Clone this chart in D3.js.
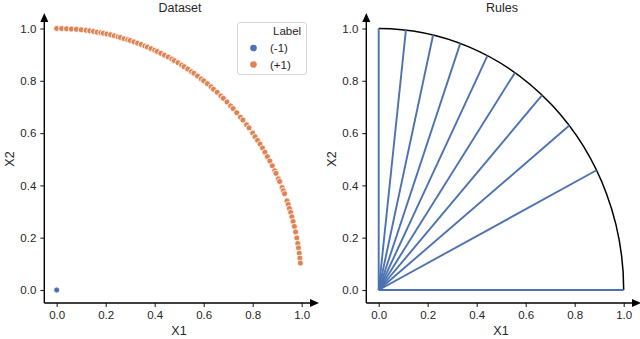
<!DOCTYPE html>
<meta charset="utf-8">
<style>
    body { margin: 0; background: #fff; }
    text { font-family: "Liberation Sans", Arial, sans-serif; fill: #262626; }
</style>
<body>
<div id="chart"></div>
<script src="https://d3js.org/d3.v7.min.js"></script>
<script>
// points of class (+1)
var posX1 = [0.00, 0.02, 0.04, 0.06, 0.08, 0.10, 0.12, 0.135, 0.15, 0.165, 0.18, 0.19, 0.205, 0.22, 0.235,
    0.25, 0.26, 0.275, 0.29, 0.30, 0.315, 0.33, 0.345, 0.36, 0.37, 0.385, 0.40, 0.41, 0.425, 0.44, 0.455,
    0.47, 0.48, 0.495, 0.51, 0.52, 0.535, 0.55, 0.56, 0.575, 0.59, 0.60, 0.615, 0.63, 0.64, 0.655, 0.67,
    0.68, 0.695, 0.71, 0.72, 0.735, 0.75, 0.76, 0.775, 0.785, 0.80, 0.81, 0.82, 0.83, 0.84, 0.85, 0.86,
    0.87, 0.88, 0.89, 0.895, 0.905, 0.91, 0.92, 0.925, 0.93, 0.94, 0.945, 0.95, 0.955, 0.96, 0.965, 0.97,
    0.975, 0.98, 0.984, 0.987, 0.99, 0.9925, 0.9947]
var posX2 = [1.000, 1.000, 0.999, 0.998, 0.997, 0.995, 0.993, 0.991, 0.989, 0.986, 0.984, 0.982, 0.979, 0.976, 0.972,
    0.968, 0.966, 0.961, 0.957, 0.954, 0.949, 0.944, 0.939, 0.933, 0.929, 0.923, 0.917, 0.912, 0.905, 0.898, 0.891,
    0.883, 0.877, 0.869, 0.860, 0.854, 0.845, 0.835, 0.829, 0.818, 0.807, 0.800, 0.789, 0.777, 0.768, 0.756, 0.742,
    0.733, 0.719, 0.704, 0.694, 0.678, 0.661, 0.650, 0.632, 0.620, 0.600, 0.586, 0.572, 0.558, 0.543, 0.527, 0.510,
    0.493, 0.475, 0.456, 0.446, 0.425, 0.415, 0.392, 0.380, 0.368, 0.341, 0.327, 0.312, 0.297, 0.280, 0.262, 0.243,
    0.222, 0.199, 0.178, 0.161, 0.141, 0.122, 0.103]
// point of class (-1)
var negX1 = [0.0]
var negX2 = [0.0]

// rule end points on the unit circle
var ruleX1 = [0.000, 0.111, 0.222, 0.333, 0.444, 0.556, 0.667, 0.778, 0.889, 1.000]
var ruleX2 = [1.000, 0.994, 0.975, 0.943, 0.896, 0.831, 0.745, 0.629, 0.458, 0.000]

var ticks = [0, 0.2, 0.4, 0.6, 0.8, 1.0]
var legendLabels = ['(-1)', '(+1)']
var blue = '#4c72b0', orange = '#dd8452'

var W = 640, H = 339
var svg = d3.select('#chart').append('svg').attr('width', W).attr('height', H)

function panel(left, title) {
    var spineX = left + 44.3
    var x = d3.scaleLinear().domain([0, 1]).range([left + 56.7, left + 301.7])
    var y = d3.scaleLinear().domain([0, 1]).range([290, 28.5])
    var g = svg.append('g')

    var gx = g.append('g').attr('transform', 'translate(0,303)')
        .call(d3.axisBottom(x).tickValues(ticks).tickFormat(d3.format('.1f')).tickSize(4).tickPadding(4))
    var gy = g.append('g').attr('transform', 'translate(' + spineX + ',0)')
        .call(d3.axisLeft(y).tickValues(ticks).tickFormat(d3.format('.1f')).tickSize(4).tickPadding(4))
    ;[gx, gy].forEach(function (a) {
        a.select('.domain').remove()
        a.selectAll('line').attr('stroke', '#262626').attr('stroke-width', 1.1)
        a.selectAll('text').style('font-size', '11.5px').attr('fill', '#262626')
    })

    // spines with arrow heads
    g.append('line').attr('x1', spineX).attr('x2', left + 312).attr('y1', 303).attr('y2', 303)
        .attr('stroke', '#000').attr('stroke-width', 1.4)
    g.append('line').attr('x1', spineX).attr('x2', spineX).attr('y1', 303).attr('y2', 21)
        .attr('stroke', '#000').attr('stroke-width', 1.4)
    g.append('path').attr('d', 'M' + (left + 310) + ',299L' + (left + 319) + ',303L' + (left + 310) + ',307Z').attr('fill', '#000')
    g.append('path').attr('d', 'M' + (spineX - 4) + ',22L' + spineX + ',13L' + (spineX + 4) + ',22Z').attr('fill', '#000')

    g.append('text').attr('x', left + 180).attr('y', 12).attr('text-anchor', 'middle')
        .style('font-size', '12.5px').text(title)
    g.append('text').attr('x', left + 179).attr('y', 335).attr('text-anchor', 'middle')
        .style('font-size', '12.5px').text('X1')
    g.append('text').attr('transform', 'translate(' + (left + 14) + ',159) rotate(-90)').attr('text-anchor', 'middle')
        .style('font-size', '12.5px').text('X2')
    return { g: g, x: x, y: y }
}

// left: dataset
var p1 = panel(0, 'Dataset')
p1.g.append('g').selectAll('circle').data(d3.range(posX1.length)).join('circle')
    .attr('cx', function (i) { return p1.x(posX1[i]) })
    .attr('cy', function (i) { return p1.y(posX2[i]) })
    .attr('r', 3).attr('fill', orange).attr('stroke', '#fff').attr('stroke-width', 0.8)
p1.g.append('g').selectAll('circle').data(d3.range(negX1.length)).join('circle')
    .attr('cx', function (i) { return p1.x(negX1[i]) })
    .attr('cy', function (i) { return p1.y(negX2[i]) })
    .attr('r', 3).attr('fill', blue).attr('stroke', '#fff').attr('stroke-width', 0.8)

// legend
var lg = p1.g.append('g')
lg.append('rect').attr('x', 237.5).attr('y', 22.5).attr('width', 69).attr('height', 52).attr('rx', 2.5)
    .attr('fill', '#fff').attr('stroke', '#d6d6d6').attr('stroke-width', 1)
lg.append('text').attr('x', 273).attr('y', 35).style('font-size', '11.5px').text('Label')
legendLabels.forEach(function (l, i) {
    lg.append('circle').attr('cx', 253.5).attr('cy', 48 + i * 16.5).attr('r', 3.3)
        .attr('fill', i === 0 ? blue : orange)
    lg.append('text').attr('x', 270).attr('y', 52 + i * 16.5).style('font-size', '11.5px').text(l)
})

// right: rules
var p2 = panel(322, 'Rules')
p2.g.append('path')
    .attr('d', 'M' + p2.x(0) + ',' + p2.y(1) + 'A' + (p2.x(1) - p2.x(0)) + ',' + (p2.y(0) - p2.y(1)) +
        ' 0 0 1 ' + p2.x(1) + ',' + p2.y(0))
    .attr('fill', 'none').attr('stroke', '#000').attr('stroke-width', 1.5)
p2.g.append('g').selectAll('line').data(d3.range(ruleX1.length)).join('line')
    .attr('x1', p2.x(0)).attr('y1', p2.y(0))
    .attr('x2', function (i) { return p2.x(ruleX1[i]) })
    .attr('y2', function (i) { return p2.y(ruleX2[i]) })
    .attr('stroke', blue).attr('stroke-width', 1.9)
</script>
</body>
